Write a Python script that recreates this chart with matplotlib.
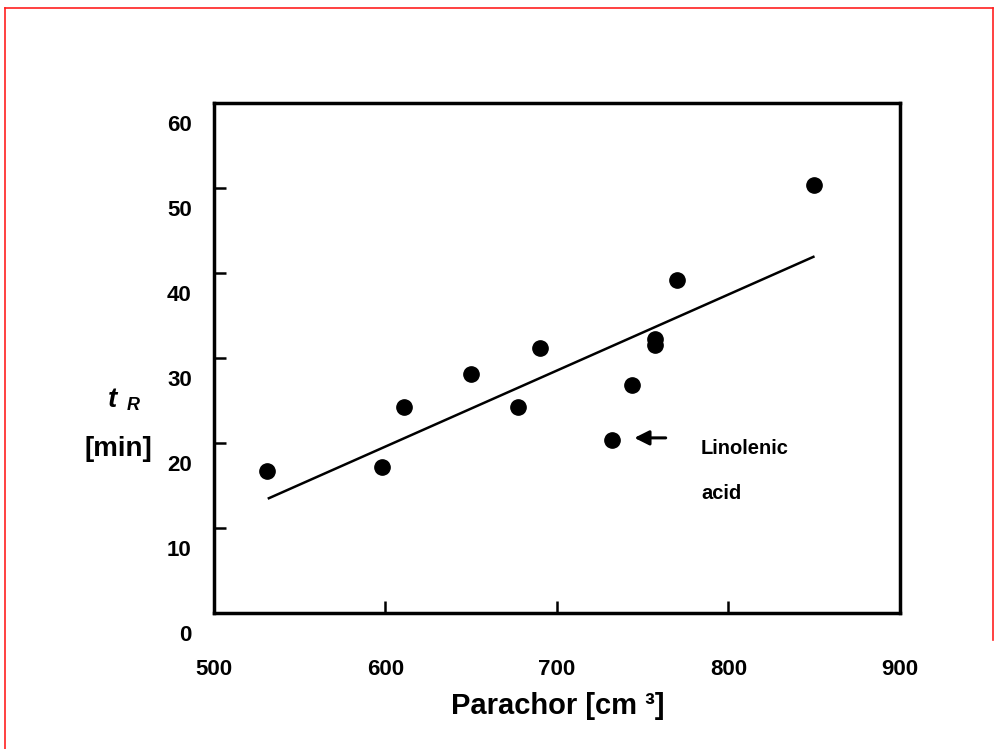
import matplotlib.pyplot as plt
from matplotlib.lines import Line2D
from matplotlib.transforms import ScaledTranslation

plt.rcParams['font.family'] = ['Liberation Sans', 'DejaVu Sans']
plt.rcParams['font.weight'] = 'bold'

# data
parachor = [531, 598, 611, 650, 677, 690, 732, 744, 757, 757, 770, 850]
t_r = [16.7, 17.2, 24.2, 28.1, 24.2, 31.2, 20.4, 26.8, 32.2, 31.5, 39.2, 50.4]
fit_x = [532, 849.5]
fit_y = [13.5, 41.9]
x_labels = [500, 600, 700, 800, 900]
y_labels = [0, 10, 20, 30, 40, 50, 60]

fig = plt.figure(figsize=(9.99, 7.49), dpi=100)
ax = fig.add_axes([0.2142, 0.1816, 0.6867, 0.6809])

ax.plot(parachor, t_r, 'o', color='black', markersize=11)
ax.plot(fit_x, fit_y, color='black', linewidth=1.8)

ax.set_xlim(500, 900)
ax.set_ylim(0, 60)

for s in ax.spines.values():
    s.set_linewidth(2.5)

# labels at every value, tick marks only inside at the middle ones
ax.xaxis.remove_overlapping_locs = False
ax.yaxis.remove_overlapping_locs = False
ax.set_xticks(x_labels)
ax.set_yticks(y_labels)
ax.set_xticks(x_labels[1:-1], minor=True)
ax.set_yticks(y_labels[1:-1], minor=True)
ax.tick_params(which='major', length=0, labelsize=16, pad=0)
ax.tick_params(which='minor', direction='in', length=8.5, width=1.8)
ax.tick_params(axis='x', which='major', pad=33)
ax.tick_params(axis='y', which='major', pad=16)

for lab in ax.get_yticklabels():
    lab.set_transform(lab.get_transform() + ScaledTranslation(0, -0.2, fig.dpi_scale_trans))

ax.annotate('', xy=(743.5, 20.6), xytext=(765, 20.6),
            arrowprops=dict(arrowstyle='-|>', color='black', lw=2.2, mutation_scale=22))
ax.text(784, 19.3, 'Linolenic', fontsize=14.5, va='center', ha='left')
ax.text(784, 14.0, 'acid', fontsize=14.5, va='center', ha='left')

fig.text(558 / 999, 1 - 706 / 749, 'Parachor [cm \u00b3]', fontsize=21, ha='center', va='center')
fig.text(118 / 999, 1 - 449 / 749, '[min]', fontsize=20, ha='center', va='center')
fig.text(108 / 999, 1 - 407 / 749, 't', fontsize=20, style='italic', ha='left', va='baseline')
fig.text(127 / 999, 1 - 410 / 749, 'R', fontsize=13, style='italic', ha='left', va='baseline')

# thin red frame of the slide
red = '#ff2020'
fig.add_artist(Line2D([5 / 999, 993 / 999], [1 - 8 / 749, 1 - 8 / 749], color=red, lw=1.2))
fig.add_artist(Line2D([5 / 999, 5 / 999], [1 - 8 / 749, 0], color=red, lw=1.2))
fig.add_artist(Line2D([993 / 999, 993 / 999], [1 - 8 / 749, 1 - 640 / 749], color=red, lw=1.2))

fig.savefig('out.png', dpi=100)
